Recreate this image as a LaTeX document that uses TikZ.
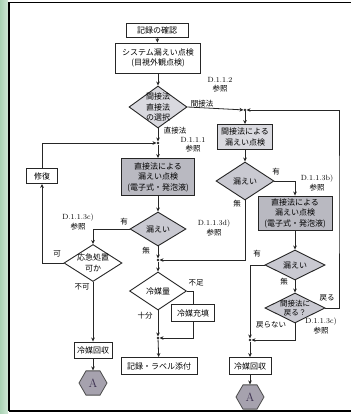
\documentclass[tikz,border=0pt]{standalone}
\usepackage{fontspec}
\newfontfamily\cjk{Noto Sans CJK JP}
\usetikzlibrary{shapes.geometric,arrows.meta}

\definecolor{fillDark}{HTML}{B9B9C1}
\definecolor{fillMid}{HTML}{C9C9D1}
\definecolor{fillLight}{HTML}{D9D9DF}
\definecolor{hexFill}{HTML}{A6A2AE}
\definecolor{hexText}{HTML}{3C3050}
\definecolor{stripA}{HTML}{A9D3B4}
\definecolor{stripB}{HTML}{CFE7D5}

\begin{document}
\begin{tikzpicture}[x=1pt,y=-1pt,
  flowbox/.style={draw=black!85,line width=0.9pt,fill=white,inner sep=0pt,align=center,
    font=\cjk\fontsize{8}{10.5}\selectfont},
  dia/.style={diamond,draw=black!85,line width=0.9pt,fill=white,inner sep=0pt},
  diatext/.style={inner sep=0pt,align=center,font=\cjk\fontsize{8}{10.5}\selectfont},
  lbl/.style={inner sep=0pt,font=\cjk\fontsize{7.5}{8.5}\selectfont},
  reflbl/.style={inner sep=0pt,align=center,font=\fontsize{7.5}{9.5}\selectfont},
  conn/.style={draw=black!85,line width=0.8pt,-{Stealth[length=4pt,width=3.6pt]}},
  plain/.style={draw=black!85,line width=0.8pt},
  jdot/.style={circle,fill=black!85,inner sep=0pt,minimum size=2.6pt},
  hexA/.style={regular polygon,regular polygon sides=6,minimum size=28pt,inner sep=0pt,
    draw=black!70,line width=0.8pt,fill=hexFill,text=hexText,font=\fontsize{12}{12}\selectfont}
]
\useasboundingbox (0,0) rectangle (351,414);

% page frame
\fill[white] (0,0) rectangle (351,414);
\shade[left color=stripA,right color=stripB] (0,0) rectangle (8,414);
\draw[black,line width=1.6pt] (8,2.5) -- (351,2.5);
\draw[black,line width=1.6pt] (9,2.5) -- (9,411);
\draw[black,line width=1.2pt] (9,411) -- (351,411);

% main column
\node[flowbox,minimum width=62pt,minimum height=14pt] (rec) at (157,30) {記録の確認};
\node[flowbox,minimum width=85pt,minimum height=30pt] (sys) at (158,58) {システム漏えい点検\\(目視外観点検)};
\node[dia,fill=fillLight,minimum width=58pt,minimum height=42pt] (sel) at (158,107) {};
\node[diatext] (selT) at (sel) {間接法\\直接法\\の選択};
\node[jdot] (j1) at (158,143) {};
\node[flowbox,fill=fillDark,minimum width=73pt,minimum height=37pt] (dbox1) at (158,177) {直接法による\\漏えい点検\\(電子式・発泡液)};
\node[dia,fill=fillMid,minimum width=56pt,minimum height=34pt] (leak1) at (158,229) {};
\node[diatext] (leak1T) at (leak1) {漏えい};
\node[jdot] (j2) at (158,260) {};
\node[dia,minimum width=57pt,minimum height=38pt] (qty) at (158,291) {};
\node[diatext] (qtyT) at (qty) {冷媒量};
\node[flowbox,minimum width=43pt,minimum height=17pt] (charge) at (193,313) {冷媒充填};
\node[jdot] (j3) at (158,338) {};
\node[flowbox,minimum width=76pt,minimum height=17pt] (rec2) at (159,366) {記録・ラベル添付};

% left column
\node[dia,minimum width=58pt,minimum height=37pt] (emerg) at (93,263) {};
\node[diatext] (emergT) at (emerg) {応急処置\\可か};
\node[flowbox,minimum width=31pt,minimum height=15pt] (repair) at (42,176) {修復};
\node[flowbox,minimum width=38pt,minimum height=16pt] (coll1) at (93,350) {冷媒回収};
\node[hexA] (hex1) at (93,383) {A};

% right column
\node[jdot] (j4) at (245,110) {};
\node[flowbox,fill=fillLight,minimum width=55pt,minimum height=25pt] (ibox) at (245,137) {間接法による\\漏えい点検};
\node[dia,fill=fillMid,minimum width=58pt,minimum height=38pt] (leak2) at (245,181) {};
\node[diatext] (leak2T) at (leak2) {漏えい};
\node[flowbox,fill=fillDark,minimum width=74pt,minimum height=34pt] (dbox2) at (295,213) {直接法による\\漏えい点検\\(電子式・発泡液)};
\node[dia,fill=fillMid,minimum width=60pt,minimum height=30pt] (leak3) at (295,265) {};
\node[diatext] (leak3T) at (leak3) {漏えい};
\node[dia,fill=fillMid,minimum width=60pt,minimum height=30pt] (back) at (295,308) {};
\node[diatext,font=\cjk\fontsize{7.5}{9}\selectfont] (backT) at (back) {間接法に\\戻る？};
\node[jdot] (j5) at (250,340) {};
\node[flowbox,minimum width=42pt,minimum height=17pt] (coll2) at (250,366) {冷媒回収};
\node[hexA] (hex2) at (250,397) {A};
\coordinate (loopR) at (339,200);

% connectors
\draw[conn] (rec) -- (sys);
\draw[conn] (sys) -- (sel);
\draw[conn] (sel.east) -- (j4);
\draw[conn] (sel.south) -- (j1);
\draw[conn] (j1) -- (dbox1);
\draw[conn] (dbox1) -- (leak1);
\draw[conn] (leak1.south) -- (j2);
\draw[conn] (j2) -- (qty.north);
\draw[plain] (qty.east) -| (charge.north);
\draw[conn] (charge.south) |- (j3);
\draw[conn] (qty.south) -- (j3);
\draw[conn] (j3) -- (rec2);
\draw[conn] (leak1.west) -| (emerg.north);
\draw[conn] (emerg.west) -| (repair.south);
\draw[conn] (repair.north) |- (j1);
\draw[conn] (emerg.south) -- (coll1);
\draw[conn] (coll1) -- (hex1);
\draw[conn] (j4) -- (ibox);
\draw[conn] (ibox) -- (leak2.north);
\draw[conn] (leak2.east) -| (dbox2.north);
\draw[conn] (leak2.south) |- (j2);
\draw[conn] (dbox2) -- (leak3.north);
\draw[conn] (leak3.south) -- (back.north);
\draw[conn] (leak3.west) -| (j5);
\draw[conn] (back.south) |- (j5);
\draw[conn] (back.east) -| (loopR) |- (j4);
\draw[conn] (j5) -- (coll2);
\draw[conn] (coll2) -- (hex2);

% edge labels
\node[lbl] (lIndirect) at (202,104) {間接法};
\node[lbl] (lDirect) at (175,131) {直接法};
\node[lbl] (lYes1) at (124,222) {有};
\node[lbl] (lNo1) at (146,251) {無};
\node[lbl] (lOk) at (57,254) {可};
\node[lbl] (lNg) at (82,287) {不可};
\node[lbl] (lShort) at (196,283) {不足};
\node[lbl] (lEnough) at (145,316) {十分};
\node[lbl] (lYes2) at (276,172) {有};
\node[lbl] (lNo2) at (237,204) {無};
\node[lbl] (lYes3) at (257,254) {有};
\node[lbl] (lNo3) at (284,282) {無};
\node[lbl] (lBack) at (327,298) {戻る};
\node[lbl] (lStay) at (271,325) {戻らない};

% reference notes
\node[reflbl] (r112) at (220,85) {D.1.1.2\\{\cjk 参照}};
\node[reflbl] (r111) at (193,145) {D.1.1.1\\{\cjk 参照}};
\node[reflbl] (r113c) at (78,222) {D.1.1.3c)\\{\cjk 参照}};
\node[reflbl] (r113d) at (214,228) {D.1.1.3d)\\{\cjk 参照}};
\node[reflbl] (r113b) at (317,183) {D.1.1.3b)\\{\cjk 参照}};
\node[reflbl] (r113c2) at (321,326) {D.1.1.3c)\\{\cjk 参照}};
\end{tikzpicture}
\end{document}
